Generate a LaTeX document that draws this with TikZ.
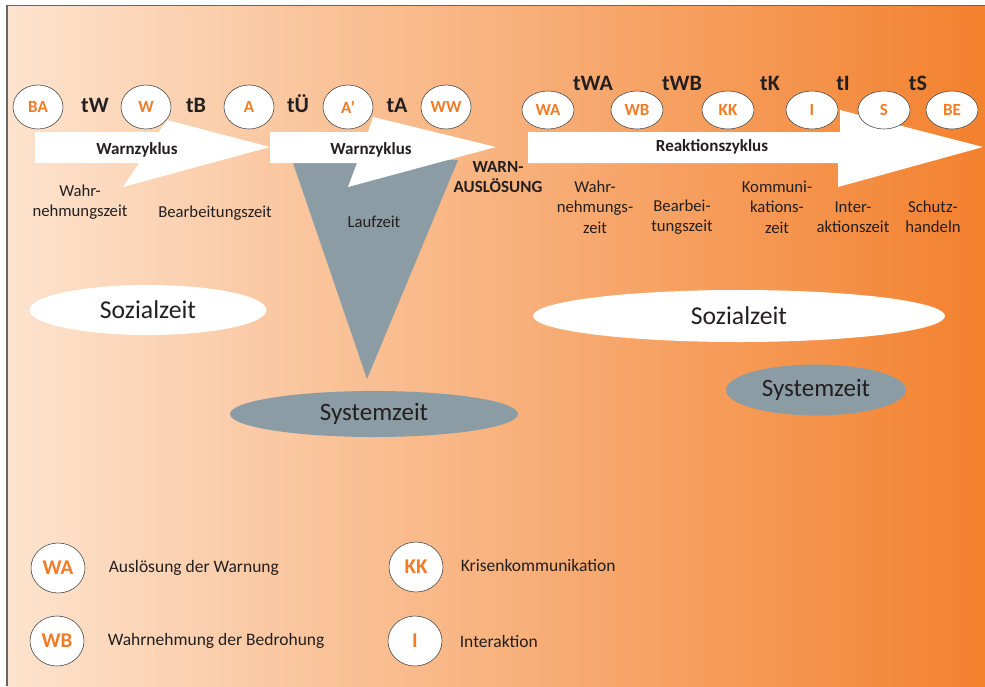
\documentclass[tikz,border=0pt]{standalone}
\usepackage{fontspec}
\setmainfont{Carlito}
\usetikzlibrary{shapes.geometric,positioning}
\definecolor{bgleft}{RGB}{253,227,206}
\definecolor{bgright}{RGB}{243,129,46}
\definecolor{warnorange}{RGB}{240,124,38}
\definecolor{slate}{RGB}{140,156,164}
\definecolor{ink}{RGB}{35,31,32}
\tikzset{
  stage/.style={ellipse,draw=black!70,line width=0.6pt,fill=white,inner sep=0pt,
    minimum width=50pt,minimum height=44pt,text=warnorange,
    font=\fontsize{17}{19}\selectfont\bfseries},
  stagelow/.style={stage,minimum width=52pt,minimum height=38pt},
  legstage/.style={stage,minimum width=54pt,minimum height=50pt,
    font=\fontsize{21}{23}\selectfont\bfseries},
  tlab/.style={text=ink,font=\fontsize{22}{24}\selectfont\bfseries},
  cyc/.style={text=ink,font=\fontsize{17}{20}\selectfont\bfseries},
  sub/.style={text=ink,align=center,font=\fontsize{16.7}{20.5}\selectfont},
  legtext/.style={text=ink,font=\fontsize{17.5}{20}\selectfont},
  soz/.style={ellipse,fill=white,inner sep=0pt,text=ink,
    font=\fontsize{25.7}{28}\selectfont},
  sys/.style={soz,fill=slate,font=\fontsize{25}{28}\selectfont}
}
\begin{document}
\begin{tikzpicture}[x=1pt,y=-1pt]
  \useasboundingbox (0,0) rectangle (985,686);
  % background
  \shade[left color=bgleft,right color=bgright] (7,6) rectangle (985,686);
  \draw[black!60,line width=1.4pt] (7,686) -- (7,5.5) -- (985,5.5);

  % time ovals
  \node[soz,minimum width=237pt,minimum height=50pt] (soz1) at (148,310) {Sozialzeit};
  \node[soz,minimum width=412pt,minimum height=52pt] (soz2) at (739,316) {Sozialzeit};
  \fill[slate] (292,160) -- (458,160) -- (367,379) -- cycle;
  \node[sys,minimum width=288pt,minimum height=46pt] (sys1) at (374,414) {Systemzeit};
  \node[sys,minimum width=180pt,minimum height=51pt] (sys2) at (816,390) {Systemzeit};

  % cycle arrows
  \fill[white] (35,132) -- (159,132) -- (167,120) -- (270,147) -- (123,187)
    -- (139,163) -- (35,163) -- cycle;
  \fill[white] (270,132) -- (368,132) -- (373,117) -- (496,147) -- (348,187)
    -- (357,163) -- (270,163) -- cycle;
  \fill[white] (528,132) -- (840,132) -- (840,110) -- (983,147) -- (838,187)
    -- (838,163) -- (528,163) -- cycle;
  \node[cyc] (cyc1) at (137,150) {Warnzyklus};
  \node[cyc] (cyc2) at (371,150) {Warnzyklus};
  \node[cyc] (cyc3) at (712,147) {Reaktionszyklus};

  % warning chain
  \node[stage] (BA) at (38,107) {BA};
  \node[stage] (W) at (146,107) {W};
  \node[stage] (A) at (249,107) {A};
  \node[stage] (A2) at (348,107) {A'};
  \node[stage] (WW) at (446,107) {WW};
  \node[tlab] (tW) at (95,105) {tW};
  \node[tlab] (tB) at (196,105) {tB};
  \node[tlab] (tUe) at (298,104) {tÜ};
  \node[tlab] (tA) at (397,105) {tA};

  % reaction chain
  \node[stagelow] (WA) at (548,110) {WA};
  \node[stagelow] (WB) at (637,110) {WB};
  \node[stagelow] (KK) at (728,110) {KK};
  \node[stagelow] (I) at (812,110) {I};
  \node[stagelow] (S) at (884,110) {S};
  \node[stagelow] (BE) at (952,110) {BE};
  \node[tlab] (tWA) at (593,83) {tWA};
  \node[tlab] (tWB) at (682,83) {tWB};
  \node[tlab] (tK) at (770,83) {tK};
  \node[tlab] (tI) at (843,83) {tI};
  \node[tlab] (tS) at (918,83) {tS};

  % durations
  \node[sub] (wz1) at (80,202) {Wahr-\\nehmungszeit};
  \node[sub] (bz1) at (215,213) {Bearbeitungszeit};
  \node[sub] (lz) at (374,222) {Laufzeit};
  \node[cyc,align=center] (ausl) at (498,177) {WARN-\\AUSLÖSUNG};
  \node[sub] (wz2) at (595,207) {Wahr-\\nehmungs-\\zeit};
  \node[sub] (bz2) at (682,217) {Bearbei-\\tungszeit};
  \node[sub] (kz) at (777,207) {Kommuni-\\kations-\\zeit};
  \node[sub] (iz) at (853,217) {Inter-\\aktionszeit};
  \node[sub] (sh) at (933,217) {Schutz-\\handeln};

  % legend
  \node[legstage] (lWA) at (58,568) {WA};
  \node[legstage] (lWB) at (57,641) {WB};
  \node[legstage] (lKK) at (416,567) {KK};
  \node[legstage] (lI) at (415,641) {I};
  \node[legtext,right=20pt of lWA] (xWA) {Auslösung der Warnung};
  \node[legtext,right=20pt of lWB] (xWB) {Wahrnehmung der Bedrohung};
  \node[legtext,right=14pt of lKK,yshift=2pt] (xKK) {Krisenkommunikation};
  \node[legtext,right=14pt of lI] (xI) {Interaktion};
\end{tikzpicture}
\end{document}
